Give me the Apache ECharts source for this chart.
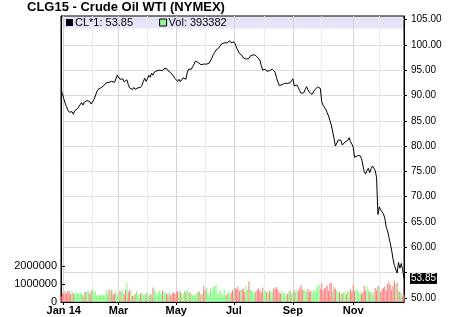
<!DOCTYPE html>
<html>
<head>
<meta charset="utf-8">
<script src="https://cdn.jsdelivr.net/npm/echarts@6/dist/echarts.min.js"></script>
<style>html,body{margin:0;padding:0;background:#fff}#c{width:450px;height:317px}</style>
</head>
<body>
<div id="c"></div>
<script>
// ---- data ----
const titleText = 'CLG15 - Crude Oil WTI (NYMEX)';
const startExtraDays = ['2013-12-30', '2013-12-31'];
const holidays2014 = ['2014-01-01','2014-01-20','2014-02-17','2014-04-18','2014-05-26','2014-07-04','2014-09-01','2014-11-27','2014-12-25'];
const lastDay = '2014-12-26';
const monthLabels = {'2014-01':'Jan 14','2014-03':'Mar','2014-05':'May','2014-07':'Jul','2014-09':'Sep','2014-11':'Nov'};
const priceTicks = [50,55,60,65,70,75,80,85,90,95,100,105];
const volTicks = [0,1000000,2000000];

const prices = [
 91.2,90.4,89.4,88.5,87.8,87.1,86.7,86.5,86.8,86.3,
 87.0,87.0,87.4,87.8,87.9,88.6,88.1,88.7,88.6,89.0,
 89.0,88.8,88.3,88.5,89.2,89.9,90.7,91.2,91.3,91.5,
 91.7,91.9,92.1,92.5,92.7,92.6,92.9,92.8,92.7,92.6,
 93.3,94.0,94.2,93.2,93.2,93.3,92.7,92.5,93.1,92.2,
 91.5,91.7,91.2,91.6,91.2,91.2,91.5,91.7,91.6,92.0,
 92.8,93.4,92.8,93.3,94.0,93.6,94.4,94.0,94.6,94.8,
 94.9,94.9,95.0,95.2,94.9,95.3,95.6,95.3,94.9,95.0,
 94.5,94.2,93.85,93.4,93.1,92.8,93.2,92.7,93.1,93.5,
 93.7,93.2,94.5,95.2,94.9,95.2,95.7,96.2,96.8,96.9,
 96.5,96.6,96.1,96.4,96.2,96.1,96.2,96.3,96.4,96.6,
 97.4,98.1,98.5,99.0,99.2,99.4,99.8,100.2,100.3,100.4,
 100.7,100.4,100.7,100.8,100.4,100.3,100.6,100.2,99.4,98.9,
 98.3,98.3,97.9,97.4,97.2,97.2,97.55,97.35,97.8,97.9,
 98.06,98.2,97.9,97.7,97.3,96.9,95.9,95.04,95.04,95.2,
 94.8,95.04,94.9,95.04,95.2,94.9,94.6,93.6,92.7,92.0,
 91.9,92.1,92.4,92.4,92.5,92.4,92.7,92.5,92.9,93.3,
 91.9,92.07,92.07,91.55,90.95,90.43,90.16,90.56,91.2,91.74,
 91.15,90.62,90.23,90.23,90.62,91.15,91.42,91.68,92.0,91.42,
 88.78,88.06,87.8,87.27,86.6,85.95,85.02,84.17,84.17,81.54,
 80.0,80.2,81.2,80.87,81.14,80.2,80.4,80.8,80.55,81.14,
 81.66,80.87,80.4,79.76,77.78,78.04,78.1,78.1,78.1,77.58,
 77.25,75.0,74.5,75.14,75.61,74.74,75.54,76.07,76.07,75.2,
 73.8,66.5,68.0,67.4,67.2,66.6,65.8,64.0,63.3,62.0,
 60.8,59.4,57.7,56.4,56.5,54.9,57.0,55.9,56.8,55.6,
 53.85
];
const volumes = [
 300000,520000,470000,600000,460000,610000,600000,440000,610000,500000,
 450000,560000,470000,430000,520000,450000,380000,540000,560000,610000,
 600000,450000,640000,700000,520000,600000,370000,380000,350000,400000,
 420000,360000,380000,650000,460000,690000,600000,680000,420000,500000,
 620000,450000,380000,620000,560000,700000,450000,680000,1080000,560000,
 680000,600000,330000,380000,450000,620000,400000,370000,480000,500000,
 390000,420000,470000,560000,340000,450000,410000,800000,700000,560000,
 380000,590000,620000,470000,640000,510000,590000,460000,420000,560000,
 380000,520000,520000,440000,560000,610000,550000,590000,460000,480000,
 620000,580000,680000,520000,560000,430000,370000,420000,380000,490000,
 560000,600000,420000,480000,900000,640000,800000,500000,420000,760000,
 560000,840000,880000,950000,400000,560000,660000,440000,370000,700000,
 380000,460000,590000,470000,520000,670000,600000,780000,720000,860000,
 620000,680000,700000,760000,560000,900000,650000,1150000,700000,580000,
 620000,500000,580000,680000,760000,620000,510000,800000,560000,620000,
 560000,510000,640000,580000,580000,770000,720000,850000,700000,540000,
 480000,620000,460000,510000,380000,460000,580000,620000,470000,520000,
 660000,560000,720000,620000,760000,960000,680000,700000,620000,560000,
 720000,560000,620000,500000,620000,560000,700000,900000,980000,740000,
 1050000,620000,760000,800000,920000,620000,1050000,1060000,600000,840000,
 720000,620000,560000,560000,480000,460000,560000,560000,440000,620000,
 580000,720000,560000,940000,620000,640000,720000,520000,600000,450000,
 560000,900000,620000,860000,700000,560000,600000,400000,520000,780000,
 650000,900000,850000,560000,700000,780000,860000,640000,1000000,1100000,
 950000,680000,880000,1200000,1000000,1050000,640000,560000,460000,300000,
 393382
];

// ---- trading-day categories ----
function fmt(d){const m=d.getUTCMonth()+1, dd=d.getUTCDate();return d.getUTCFullYear()+'-'+(m<10?'0':'')+m+'-'+(dd<10?'0':'')+dd;}
const days = startExtraDays.slice();
for (let d = new Date(Date.UTC(2014,0,1)); fmt(d) <= lastDay; d.setUTCDate(d.getUTCDate()+1)) {
  const wd = d.getUTCDay(); const s = fmt(d);
  if (wd === 0 || wd === 6 || holidays2014.indexOf(s) >= 0) continue;
  days.push(s);
}
function isMonthStart(i){ return i > 0 && days[i].slice(0,7) !== days[i-1].slice(0,7) && days[i] >= '2014-01-01'; }
function isLabelMonth(i){ return isMonthStart(i) && monthLabels[days[i].slice(0,7)] !== undefined; }

const lastPrice = prices[prices.length-1];
const lastVol = volumes[volumes.length-1];
const priceName = 'CL*1: ' + lastPrice.toFixed(2);
const volName = 'Vol: ' + lastVol;
const volData = volumes.map((v,i)=>({value:v, itemStyle:{color: (i>0 && prices[i] >= prices[i-1]) ? '#80ff80' : '#ff8080'}}));

const FONT = 'Liberation Sans';
const chart = echarts.init(document.getElementById('c'), null, {renderer:'canvas'});
chart.setOption({
  animation:false,
  backgroundColor:'#fff',
  title:{text:titleText,left:27,top:1,padding:0,textStyle:{fontFamily:FONT,fontSize:13,fontWeight:'bold',color:'#000'}},
  graphic:[{type:'rect',z:-10,shape:{x:61,y:16,width:343,height:12.5},style:{fill:'#e6e6fa'}}],
  legend:{left:66,top:17,padding:0,itemWidth:7,itemHeight:7,itemGap:26,icon:'rect',selectedMode:false,
    textStyle:{fontFamily:FONT,fontSize:11,color:'#000',padding:[0,0,0,-3]},
    data:[{name:priceName,itemStyle:{color:'#000'}},{name:volName,itemStyle:{color:'#99f099',borderColor:'#000',borderWidth:1}}]},
  grid:{left:61,right:46,top:16,bottom:15,show:true,borderColor:'#000',borderWidth:1,containLabel:false},
  xAxis:[{
    type:'category',data:days,boundaryGap:false,
    axisLine:{show:true,lineStyle:{color:'#000'}},
    axisTick:{show:true,length:3,interval:(i)=>isLabelMonth(i),lineStyle:{color:'#000'}},
    axisLabel:{interval:(i)=>isLabelMonth(i),formatter:(v)=>monthLabels[v.slice(0,7)]||'',margin:3,fontFamily:FONT,fontSize:11,fontWeight:'bold',color:'#000'},
    splitLine:{show:true,interval:(i)=>isMonthStart(i),lineStyle:{color:['#d2d2d2','#ebebeb'],width:1}}
  }],
  yAxis:[{
    type:'value',position:'right',min:49.19,max:105.71,splitNumber:11,minInterval:5,maxInterval:5,
    axisLine:{show:true,lineStyle:{color:'#000'}},
    axisTick:{show:true,length:3,customValues:priceTicks,lineStyle:{color:'#000'}},
    axisLabel:{customValues:priceTicks,formatter:(v)=>(Math.abs(v-lastPrice)<2.6?'':v.toFixed(2)),margin:7,fontFamily:FONT,fontSize:10,color:'#000'},
    splitLine:{show:true,lineStyle:{color:'#dcdcdc'}}
  },{
    type:'value',position:'left',min:0,max:15900000,
    axisLine:{show:true,lineStyle:{color:'#000'}},
    axisTick:{show:true,inside:true,length:4,customValues:volTicks,lineStyle:{color:'#000'}},
    axisLabel:{customValues:volTicks,formatter:(v)=>String(v),margin:4,fontFamily:FONT,fontSize:11,color:'#000'},
    splitLine:{show:false}
  }],
  series:[{
    name:volName,type:'bar',xAxisIndex:0,yAxisIndex:1,data:volData,barWidth:1.1,itemStyle:{color:'#99f099'},z:2
  },{
    name:priceName,type:'line',xAxisIndex:0,yAxisIndex:0,data:prices,showSymbol:false,symbol:'none',
    lineStyle:{color:'#000',width:1},itemStyle:{color:'#000'},z:3,
    markLine:{silent:true,symbol:'none',data:[{yAxis:lastPrice}],lineStyle:{color:'transparent',width:0},
      label:{show:true,position:'end',distance:6,formatter:lastPrice.toFixed(2),color:'#fff',backgroundColor:'#000',padding:[1,1,0,1],fontFamily:FONT,fontSize:10}}
  }]
});
</script>
</body>
</html>
